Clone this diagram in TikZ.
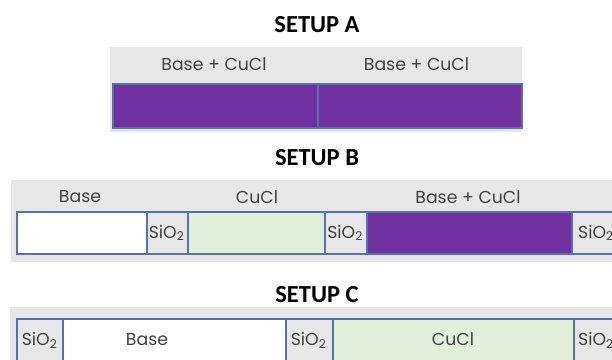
\documentclass[tikz,border=0pt]{standalone}
\usepackage{fontspec}
\setmainfont{Poppins}
\newfontfamily\titlefont{Carlito}
\definecolor{panelgray}{HTML}{E7E7E7}
\definecolor{cellblue}{HTML}{5473AA}
\definecolor{mixpurple}{HTML}{7030A0}
\definecolor{cuclgreen}{HTML}{E2EFDA}
\definecolor{textgray}{HTML}{404040}
\tikzset{
  panel/.style={fill=panelgray},
  cell/.style={draw=cellblue, line width=1.7pt, anchor=north west, inner sep=0pt},
  oxide/.style={cell, fill=panelgray},
  lbl/.style={text=textgray, font=\fontsize{17.3}{20}\selectfont, inner sep=0pt},
  oxtext/.style={lbl, anchor=base},
  heading/.style={font=\titlefont\bfseries\fontsize{24.5}{28}\selectfont, inner sep=0pt}
}
\newcommand{\oxide}{SiO\textsubscript{2}}
\begin{document}
\begin{tikzpicture}[x=1pt,y=-1pt]
\useasboundingbox (0,0) rectangle (612,359);

% ---------- Setup A ----------
\node[heading] (titleA) at (317,24.5) {SETUP A};
\fill[panel] (110,47) rectangle (522,132);
\node[lbl] (labA1) at (214,64.5) {Base + CuCl};
\node[lbl] (labA2) at (416.5,64.5) {Base + CuCl};
\node[cell, fill=mixpurple, minimum width=205pt, minimum height=44pt] (a1) at (112,83) {};
\node[cell, fill=mixpurple, minimum width=204pt, minimum height=44pt] (a2) at (317,83) {};

% ---------- Setup B ----------
\node[heading] (titleB) at (317,157.5) {SETUP B};
\fill[panel] (11,180) rectangle (630,262);
\node[lbl] (labB1) at (80,197) {Base};
\node[lbl] (labB2) at (257,197) {CuCl};
\node[lbl] (labB3) at (468,197) {Base + CuCl};
\node[cell, fill=white, minimum width=130pt, minimum height=42pt] (b1) at (16,211) {};
\node[oxide, minimum width=41pt, minimum height=42pt] (b2) at (146,211) {};
\node[cell, fill=cuclgreen, minimum width=137pt, minimum height=42pt] (b3) at (187,211) {};
\node[oxide, minimum width=42pt, minimum height=42pt] (b4) at (324,211) {};
\node[cell, fill=mixpurple, minimum width=205pt, minimum height=42pt] (b5) at (366,211) {};
\node[oxide, minimum width=45pt, minimum height=42pt] (b6) at (571,211) {};
\node[oxtext] (tb2) at (166.5,238) {\oxide};
\node[oxtext] (tb4) at (345,238) {\oxide};
\node[oxtext, anchor=base west] (tb6) at (578,238) {\oxide};

% ---------- Setup C ----------
\node[heading] (titleC) at (317,294.5) {SETUP C};
\fill[panel] (10,307) rectangle (630,380);
\node[oxide, minimum width=46pt, minimum height=60pt] (c1) at (16,318) {};
\node[cell, fill=white, minimum width=223pt, minimum height=60pt] (c2) at (62,318) {};
\node[oxide, minimum width=47pt, minimum height=60pt] (c3) at (285,318) {};
\node[cell, fill=cuclgreen, minimum width=241pt, minimum height=60pt] (c4) at (332,318) {};
\node[oxide, minimum width=47pt, minimum height=60pt] (c5) at (573,318) {};
\node[oxtext] (tc1) at (39.5,345.5) {\oxide};
\node[lbl, anchor=base] (tc2) at (147,345.5) {Base};
\node[oxtext] (tc3) at (308.5,345.5) {\oxide};
\node[lbl, anchor=base] (tc4) at (453,345.5) {CuCl};
\node[oxtext, anchor=base west] (tc5) at (578,345.5) {\oxide};
\end{tikzpicture}
\end{document}
